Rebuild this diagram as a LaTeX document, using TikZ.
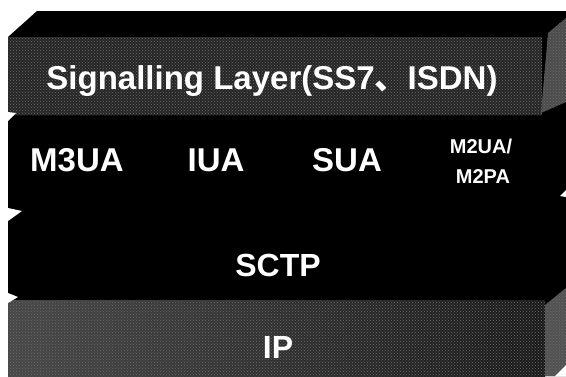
\documentclass[tikz,border=0pt]{standalone}
\usepackage{fontspec}
\usetikzlibrary{patterns}
\setmainfont{Liberation Sans}
\newfontfamily\cjk{Noto Sans CJK SC}
\begin{document}
\begin{tikzpicture}[x=1pt,y=-1pt,
  lbl/.style={text=white,font=\bfseries\fontsize{33}{36}\selectfont,inner sep=0pt},
  small/.style={text=white,font=\bfseries\fontsize{20}{30}\selectfont,inner sep=0pt,align=center},
  notch/.style={fill=white,draw=none},
  speckle/.style={pattern=crosshatch dots,pattern color=black!58}]
\useasboundingbox (0,0) rectangle (566,376);
\fill[white] (0,0) rectangle (566,376);
% whole stack body
\fill[black] (37,11) -- (566,11) -- (566,376) -- (8,376) -- (8,37) -- cycle;
% signalling layer front face and side face
\fill[black!85] (8,37) rectangle (542,115);
\fill[speckle] (8,37) rectangle (542,115);
\fill[black!70] (566,18) -- (548,33) -- (541,113) -- (566,102) -- cycle;
\fill[speckle] (566,18) -- (548,33) -- (541,113) -- (566,102) -- cycle;
% IP layer front and side faces
\shade[left color=black!72,right color=black!90] (8,300) rectangle (545,376);
\fill[speckle] (8,300) rectangle (545,376);
\fill[black!68] (566,288) -- (545,305) -- (545,376) -- (555,376) -- (566,365) -- cycle;
\fill[speckle] (566,288) -- (545,305) -- (545,376) -- (555,376) -- (566,365) -- cycle;
\fill[white] (555,376) -- (566,365) -- (566,376) -- cycle;
% notches between layers
\fill[notch] (8,112) -- (16,113) -- (8,121) -- cycle;
\fill[notch] (8,208) -- (22,211) -- (8,221) -- cycle;
\fill[notch] (8,293) -- (18,297) -- (8,303) -- cycle;
\fill[notch] (566,190) -- (560,196) -- (566,197) -- cycle;
% labels
\node[lbl] (sig) at (272,81)
  {Signalling Layer(SS7{\cjk 、}ISDN)};
\node[lbl] (m3ua) at (77,160) {M3UA};
\node[lbl] (iua) at (216,160) {IUA};
\node[lbl] (sua) at (347,160) {SUA};
\node[small] (m2ua) at (481,146) {M2UA/};
\node[small] (m2pa) at (483,177) {M2PA};
\node[lbl,font=\bfseries\fontsize{32}{36}\selectfont] (sctp) at (278,265) {SCTP};
\node[lbl,font=\bfseries\fontsize{32}{36}\selectfont] (ip) at (278,347) {IP};
\end{tikzpicture}
\end{document}
